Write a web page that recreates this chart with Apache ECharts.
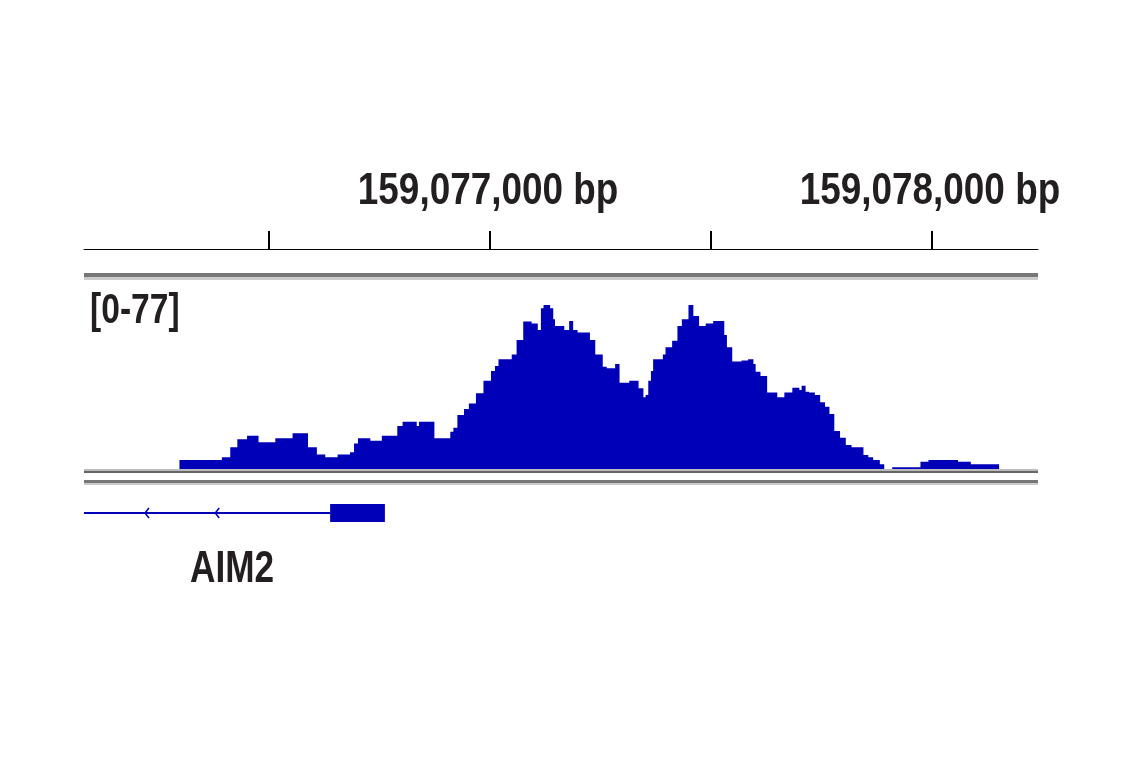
<!DOCTYPE html>
<html><head><meta charset="utf-8">
<script src="https://cdn.jsdelivr.net/npm/echarts@6/dist/echarts.min.js"></script>
<style>html,body{margin:0;padding:0;background:#fff}#c{width:1141px;height:768px}</style>
</head><body><div id="c"></div>
<script>
// positions: bp offset from 159,077,000 (start of each step); values: coverage
const ORIGIN = 159077000;
const positions = [-703,-607,-588,-572,-550,-524,-486,-447,-412,-392,-373,-345,-317,-308,-299,-271,-245,-210,-198,-166,-161,-126,-90,-83,-74,-59,-48,-32,-15,2,11,19,49,60,75,94,108,115,121,136,143,147,168,179,188,198,226,238,255,264,283,293,315,336,347,352,358,364,369,391,397,412,424,434,449,460,473,488,505,530,536,548,569,584,596,601,612,627,650,666,684,700,705,714,722,735,747,758,768,779,792,805,818,845,856,867,882,892,910,974,992,1059,1088,1152];
const values = [4.0,5.2,9.7,13.2,14.8,11.9,13.7,15.9,9.7,6.5,5.2,6.5,7.4,11.4,13.7,12.6,14.8,19.1,21.0,19.1,21.0,13.7,16.6,18.4,24.0,26.7,29.2,33.7,39.3,43.6,45.8,48.8,51.0,57.4,65.6,64.8,61.9,71.5,73.0,71.5,66.6,63.6,61.9,65.9,61.9,60.7,57.4,51.0,45.5,44.8,46.7,38.4,39.3,35.9,31.9,32.9,39.3,43.6,48.8,51.0,54.2,57.1,63.6,66.6,73.0,68.1,63.6,64.8,65.9,59.6,54.2,47.8,48.3,48.8,46.7,43.3,41.4,34.0,31.9,34.0,36.2,35.2,37.1,34.4,34.0,32.9,29.7,27.7,24.5,16.9,13.9,10.7,9.7,6.2,5.2,4.0,2.1,0,0.8,3.2,4.0,3.2,2.1,0];
const tickValues = [-500,0,500,1000];
const labelValues = [0,1000];
const rangeLabel = "[0-77]";
const geneName = "AIM2";
const geneLine = [-919,-362];
const geneExon = [-362,-238];
const geneArrows = [-781,-622];
const XMIN=-919, XMAX=1240;

const font = '"Liberation Sans",Arial,sans-serif';
const chart = echarts.init(document.getElementById('c'));
const blue = '#0000b8';
const ink = '#231f20';
chart.setOption({
  animation:false,
  grid:[{left:84,right:103,top:296,bottom:299},{left:84,right:103,top:500,height:26},{left:84,right:103,top:200,height:49}],
  xAxis:[{type:'value',gridIndex:0,min:XMIN,max:XMAX,show:false},
    {type:'value',gridIndex:1,min:XMIN,max:XMAX,show:false},
    {type:'value',gridIndex:2,min:XMIN,max:XMAX,position:'bottom',
      axisLine:{show:true,lineStyle:{color:'#000',width:1}},
      axisTick:{show:true,inside:true,length:18,customValues:tickValues,lineStyle:{color:'#000',width:2}},
      axisLabel:{show:false},splitLine:{show:false}}],
  yAxis:[{type:'value',gridIndex:0,min:0,max:77,show:false},{type:'value',gridIndex:1,min:0,max:1,show:false},
    {type:'value',gridIndex:2,min:0,max:1,show:false}],
  series:[{type:'custom',xAxisIndex:0,yAxisIndex:0,data:[[0]],renderItem:(p,api)=>{
      const pts=[];
      for(let i=0;i<positions.length-1;i++){
        const x0=api.coord([positions[i],0])[0],x1=api.coord([positions[i+1],0])[0];
        const y=api.coord([0,values[i]])[1];
        pts.push([x0,y],[x1,y]);
      }
      const base=api.coord([0,0])[1];
      pts.push([pts[pts.length-1][0],base],[pts[0][0],base]);
      return {type:'polygon',shape:{points:pts},style:{fill:blue}};}},
    {type:'custom',xAxisIndex:1,yAxisIndex:1,data:[[0]],renderItem:(p,api)=>{
      const y=api.coord([0,0.5])[1];
      const x0=api.coord([geneLine[0],0])[0],x1=api.coord([geneLine[1],0])[0];
      const e0=api.coord([geneExon[0],0])[0],e1=api.coord([geneExon[1],0])[0];
      const ch=[{type:'line',shape:{x1:x0,y1:y,x2:x1,y2:y},style:{stroke:blue,lineWidth:2}},
        {type:'rect',shape:{x:e0,y:y-9,width:e1-e0,height:18},style:{fill:blue}}];
      geneArrows.forEach(a=>{const ax=api.coord([a,0])[0];
        ch.push({type:'polyline',shape:{points:[[ax+4,y-5],[ax,y],[ax+4,y+5]]},style:{stroke:blue,lineWidth:1.5,fill:null}});});
      return {type:'group',children:ch};}}
  ]
});
const g=[
  {type:'rect',shape:{x:84,y:273,width:954,height:4},style:{fill:'#777'}},
  {type:'rect',shape:{x:84,y:277,width:954,height:3},style:{fill:'#ccc'}},
  {type:'rect',shape:{x:84,y:469,width:954,height:2},style:{fill:'#bbb'}},
  {type:'rect',shape:{x:84,y:471,width:954,height:2},style:{fill:'#666'}},
  {type:'rect',shape:{x:84,y:480,width:954,height:3},style:{fill:'#777'}},
  {type:'rect',shape:{x:84,y:483,width:954,height:2},style:{fill:'#ccc'}},
  {type:'text',x:90,y:311,scaleX:0.8,style:{text:rangeLabel,font:'bold 42px '+font,fill:ink,verticalAlign:'middle'}},
  {type:'text',x:190,y:570,scaleX:0.8,style:{text:geneName,font:'bold 44px '+font,fill:ink,verticalAlign:'middle'}}
];
labelValues.forEach(v=>{
  const px=chart.convertToPixel({xAxisIndex:2},v);
  g.push({type:'text',x:px-2,y:192,scaleX:0.82,style:{text:(ORIGIN+v).toLocaleString('en-US')+' bp',font:'bold 45px '+font,fill:ink,align:'center',verticalAlign:'middle'}});
});
chart.setOption({graphic:g});
</script></body></html>
